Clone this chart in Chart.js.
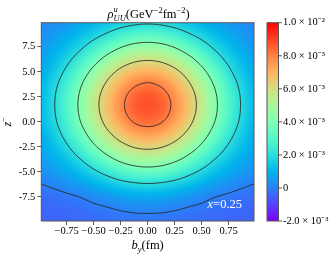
<!DOCTYPE html>
<html>
<head>
<meta charset="utf-8">
<script src="https://cdn.jsdelivr.net/npm/chart.js@4.4.1/dist/chart.umd.min.js"></script>
<style>
  html, body { margin: 0; padding: 0; background: #fff; }
</style>
</head>
<body>
<canvas id="chart" width="335" height="259"></canvas>
<script>
// rho_UU^u on a grid, in units of 1e-3 GeV^-2 fm^-2
var bY = [-1, -0.875, -0.75, -0.625, -0.5, -0.375, -0.25, -0.125, 0, 0.125, 0.25, 0.375, 0.5, 0.625, 0.75, 0.875, 1];
var zRows = [10, 8.75, 7.5, 6.25, 5, 3.75, 2.5, 1.25, 0, -1.25, -2.5, -3.75, -5, -6.25, -7.5, -8.75, -10];
var rho = [
  [0.18, 0.30, 0.47, 0.71, 0.99, 1.27, 1.57, 1.78, 1.85, 1.78, 1.57, 1.27, 0.99, 0.71, 0.47, 0.30, 0.18],
  [0.29, 0.50, 0.79, 1.17, 1.63, 2.11, 2.62, 2.95, 3.07, 2.95, 2.62, 2.11, 1.63, 1.17, 0.79, 0.50, 0.29],
  [0.44, 0.77, 1.21, 1.79, 2.51, 3.25, 3.91, 4.36, 4.51, 4.36, 3.91, 3.25, 2.51, 1.79, 1.21, 0.77, 0.44],
  [0.65, 1.10, 1.72, 2.53, 3.48, 4.42, 5.20, 5.71, 5.88, 5.71, 5.20, 4.42, 3.48, 2.53, 1.72, 1.10, 0.65],
  [0.82, 1.40, 2.22, 3.25, 4.38, 5.45, 6.31, 6.87, 7.08, 6.87, 6.31, 5.45, 4.38, 3.25, 2.22, 1.40, 0.82],
  [1.00, 1.70, 2.66, 3.83, 5.07, 6.19, 7.14, 7.83, 8.11, 7.83, 7.14, 6.19, 5.07, 3.83, 2.66, 1.70, 1.00],
  [1.10, 1.86, 2.92, 4.16, 5.46, 6.62, 7.65, 8.41, 8.68, 8.41, 7.65, 6.62, 5.46, 4.16, 2.92, 1.86, 1.10],
  [1.11, 1.88, 2.95, 4.20, 5.50, 6.68, 7.72, 8.49, 8.73, 8.49, 7.72, 6.68, 5.50, 4.20, 2.95, 1.88, 1.11],
  [1.03, 1.76, 2.76, 3.96, 5.20, 6.36, 7.33, 8.06, 8.30, 8.06, 7.33, 6.36, 5.20, 3.96, 2.76, 1.76, 1.03],
  [0.88, 1.50, 2.36, 3.43, 4.60, 5.68, 6.57, 7.17, 7.39, 7.17, 6.57, 5.68, 4.60, 3.43, 2.36, 1.50, 0.88],
  [0.70, 1.18, 1.86, 2.75, 3.76, 4.72, 5.53, 6.06, 6.24, 6.06, 5.53, 4.72, 3.76, 2.75, 1.86, 1.18, 0.70],
  [0.50, 0.86, 1.33, 1.97, 2.78, 3.58, 4.28, 4.75, 4.91, 4.75, 4.28, 3.58, 2.78, 1.97, 1.33, 0.86, 0.50],
  [0.27, 0.51, 0.83, 1.23, 1.78, 2.36, 2.89, 3.26, 3.40, 3.26, 2.89, 2.36, 1.78, 1.23, 0.83, 0.51, 0.27],
  [-0.02, 0.12, 0.33, 0.58, 0.91, 1.26, 1.60, 1.81, 1.90, 1.81, 1.60, 1.26, 0.91, 0.58, 0.33, 0.12, -0.02],
  [-0.31, -0.23, -0.12, 0.01, 0.22, 0.41, 0.61, 0.74, 0.79, 0.74, 0.61, 0.41, 0.22, 0.01, -0.12, -0.23, -0.31],
  [-0.44, -0.39, -0.33, -0.27, -0.16, -0.07, 0.04, 0.12, 0.14, 0.12, 0.04, -0.07, -0.16, -0.27, -0.33, -0.39, -0.44],
  [-0.48, -0.45, -0.42, -0.38, -0.33, -0.29, -0.25, -0.21, -0.20, -0.21, -0.25, -0.29, -0.33, -0.38, -0.42, -0.45, -0.48]
];
var levels = [0, 2, 4, 6, 8];

var xTicks = [-0.75, -0.5, -0.25, 0, 0.25, 0.5, 0.75];
var zTicks = [-7.5, -5, -2.5, 0, 2.5, 5, 7.5];
var cbTicks = [-2, 0, 2, 4, 6, 8, 10];
var cbLabels = ['-2.0 × 10⁻³', '0', '2.0 × 10⁻³', '4.0 × 10⁻³', '6.0 × 10⁻³', '8.0 × 10⁻³', '1.0 × 10⁻²'];

var SERIF = "'Liberation Serif', 'Times New Roman', serif";
var tickFont = { family: SERIF, size: 10.5, lineHeight: 1 };

// matplotlib "rainbow"
function rainbow(v) {
  var t = (v + 2) / 12;
  t = Math.max(0, Math.min(1, t));
  var r = Math.abs(2 * t - 0.5), g = Math.sin(Math.PI * t), b = Math.cos(Math.PI * t / 2);
  return [Math.round(Math.min(1, r) * 255), Math.round(g * 255), Math.round(b * 255)];
}

function cr(p0, p1, p2, p3, t) {
  return 0.5 * (2 * p1 + (-p0 + p2) * t + (2 * p0 - 5 * p1 + 4 * p2 - p3) * t * t + (-p0 + 3 * p1 - 3 * p2 + p3) * t * t * t);
}
function cell(i, j) {
  i = Math.max(0, Math.min(bY.length - 1, i));
  j = Math.max(0, Math.min(zRows.length - 1, j));
  return rho[j][i];
}
// smooth reading of the grid between its nodes
function field(bx, z) {
  var fi = (bx - bY[0]) / (bY[1] - bY[0]);
  var fj = (zRows[0] - z) / (zRows[0] - zRows[1]);
  var i = Math.floor(fi), j = Math.floor(fj);
  var t = fi - i, s = fj - j;
  var col = [];
  for (var k = -1; k <= 2; k++) {
    col.push(cr(cell(i - 1, j + k), cell(i, j + k), cell(i + 1, j + k), cell(i + 2, j + k), t));
  }
  return cr(col[0], col[1], col[2], col[3], s);
}

// text with super/subscripts
function rich(ctx, parts, x, y, align, color) {
  var cur = 0, hold = null, segs = [];
  parts.forEach(function (p) {
    ctx.font = (p.i ? 'italic ' : '') + p.s + 'px ' + SERIF;
    var w = ctx.measureText(p.t).width;
    segs.push({ p: p, x: cur });
    if (p.hold) { hold = cur + w; }
    else { cur = Math.max(cur + w, hold || 0); hold = null; }
  });
  var x0 = align === 'center' ? x - cur / 2 : (align === 'right' ? x - cur : x);
  ctx.fillStyle = color || '#000';
  ctx.textBaseline = 'alphabetic';
  ctx.textAlign = 'left';
  segs.forEach(function (sg) {
    ctx.font = (sg.p.i ? 'italic ' : '') + sg.p.s + 'px ' + SERIF;
    ctx.fillText(sg.p.t, x0 + sg.x, y + (sg.p.dy || 0));
  });
}

function noPad(s) { s.paddingTop = 0; s.paddingBottom = 0; s.paddingLeft = 0; s.paddingRight = 0; }

var heatPlugin = {
  id: 'heat',
  beforeDatasetsDraw: function (chart) {
    var ctx = chart.ctx, a = chart.chartArea;
    var xs = chart.scales.x, ys = chart.scales.y;
    var W = Math.ceil(a.right - a.left), H = Math.ceil(a.bottom - a.top);
    var off = document.createElement('canvas');
    off.width = W; off.height = H;
    var octx = off.getContext('2d');
    var img = octx.createImageData(W, H);
    for (var py = 0; py < H; py++) {
      var z = ys.getValueForPixel(a.top + py + 0.5);
      for (var px = 0; px < W; px++) {
        var bx = xs.getValueForPixel(a.left + px + 0.5);
        var c = rainbow(field(bx, z));
        var k = (py * W + px) * 4;
        img.data[k] = c[0]; img.data[k + 1] = c[1]; img.data[k + 2] = c[2]; img.data[k + 3] = 255;
      }
    }
    octx.putImageData(img, 0, 0);
    ctx.save();
    ctx.beginPath();
    ctx.rect(a.left, a.top, a.right - a.left, a.bottom - a.top);
    ctx.clip();
    ctx.drawImage(off, a.left, a.top, W, H);

    // contour lines by marching squares on a fine sampling
    var step = 2;
    var nx = Math.ceil(W / step) + 1, ny = Math.ceil(H / step) + 1;
    var G = [], PX = [], PY = [];
    for (var i = 0; i < nx; i++) PX.push(a.left + i * step);
    for (var j = 0; j < ny; j++) PY.push(a.top + j * step);
    for (j = 0; j < ny; j++) {
      var row = [];
      var zz = ys.getValueForPixel(PY[j]);
      for (i = 0; i < nx; i++) row.push(field(xs.getValueForPixel(PX[i]), zz));
      G.push(row);
    }
    ctx.strokeStyle = 'rgb(35,35,35)';
    ctx.lineWidth = 0.85;
    ctx.lineCap = 'butt';
    levels.forEach(function (L) {
      ctx.beginPath();
      for (var j = 0; j < ny - 1; j++) {
        for (var i = 0; i < nx - 1; i++) {
          var v0 = G[j][i], v1 = G[j][i + 1], v2 = G[j + 1][i + 1], v3 = G[j + 1][i];
          var x0 = PX[i], x1 = PX[i + 1], y0 = PY[j], y1 = PY[j + 1];
          var pts = [];
          if ((v0 >= L) !== (v1 >= L)) pts.push([x0 + (L - v0) / (v1 - v0) * (x1 - x0), y0]);
          if ((v1 >= L) !== (v2 >= L)) pts.push([x1, y0 + (L - v1) / (v2 - v1) * (y1 - y0)]);
          if ((v2 >= L) !== (v3 >= L)) pts.push([x1 - (L - v2) / (v3 - v2) * (x1 - x0), y1]);
          if ((v3 >= L) !== (v0 >= L)) pts.push([x0, y1 - (L - v3) / (v0 - v3) * (y1 - y0)]);
          for (var p = 0; p + 1 < pts.length; p += 2) {
            ctx.moveTo(pts[p][0], pts[p][1]);
            ctx.lineTo(pts[p + 1][0], pts[p + 1][1]);
          }
        }
      }
      ctx.stroke();
    });
    ctx.restore();
  },
  afterDraw: function (chart) {
    var ctx = chart.ctx, a = chart.chartArea;
    var cb = chart.scales.cb;
    ctx.save();
    // frame
    ctx.strokeStyle = '#555';
    ctx.lineWidth = 1;
    ctx.strokeRect(a.left, a.top, a.right - a.left, a.bottom - a.top);

    // colorbar
    var cx0 = cb.left + 13, cx1 = cb.left + 24.5;
    var yTop = cb.getPixelForValue(10), yBot = cb.getPixelForValue(-2);
    var grad = ctx.createLinearGradient(0, yBot, 0, yTop);
    for (var k = 0; k <= 24; k++) {
      var c = rainbow(-2 + 12 * k / 24);
      grad.addColorStop(k / 24, 'rgb(' + c.join(',') + ')');
    }
    ctx.fillStyle = grad;
    ctx.fillRect(cx0, yTop, cx1 - cx0, yBot - yTop);
    ctx.strokeStyle = '#555';
    ctx.strokeRect(cx0, yTop, cx1 - cx0, yBot - yTop);
    ctx.strokeStyle = '#333';
    ctx.lineWidth = 0.8;
    ctx.beginPath();
    cbTicks.forEach(function (v) {
      var y = cb.getPixelForValue(v);
      ctx.moveTo(cx1, y); ctx.lineTo(cx1 + 3.5, y);
    });
    ctx.stroke();

    // title
    rich(ctx, [
      { t: 'ρ', s: 12.5, i: true },
      { t: 'u', s: 8.5, i: true, dy: -5.5, hold: true },
      { t: 'UU', s: 8.5, i: true, dy: 3 },
      { t: '(GeV', s: 12.5 },
      { t: '−2', s: 8.5, dy: -5 },
      { t: 'fm', s: 12.5 },
      { t: '−2', s: 8.5, dy: -5 },
      { t: ')', s: 12.5 }
    ], (a.left + a.right) / 2 + 1, 17.5, 'center');

    // x title
    rich(ctx, [
      { t: 'b', s: 12.5, i: true },
      { t: 'y', s: 8.5, i: true, dy: 3 },
      { t: '(fm)', s: 12.5 }
    ], chart.scales.x.getPixelForValue(0), 249, 'center');

    // y title, rotated
    ctx.save();
    ctx.translate(10.5, chart.scales.y.getPixelForValue(0));
    ctx.rotate(-Math.PI / 2);
    rich(ctx, [
      { t: 'z', s: 12, i: true },
      { t: '−', s: 8, dy: -5 }
    ], 0, 0, 'center');
    ctx.restore();

    // annotation
    rich(ctx, [
      { t: 'x', s: 12.5, i: true },
      { t: '=0.25', s: 12.5 }
    ], a.right - 12, a.bottom - 13, 'right', '#fff');
    ctx.restore();
  }
};

var cells = [];
zRows.forEach(function (z) { bY.forEach(function (b) { cells.push({ x: b, y: z }); }); });

new Chart(document.getElementById('chart'), {
  type: 'scatter',
  data: { datasets: [{ data: cells, pointRadius: 0, pointHoverRadius: 0 }] },
  plugins: [heatPlugin],
  options: {
    responsive: false,
    animation: false,
    devicePixelRatio: 1,
    layout: { padding: { top: 22.7, left: 0, right: 0, bottom: 0 } },
    plugins: { legend: { display: false }, tooltip: { enabled: false } },
    scales: {
      x: {
        type: 'linear', min: -0.985, max: 0.985,
        afterBuildTicks: function (s) { s.ticks = xTicks.map(function (v) { return { value: v }; }); },
        afterFit: function (s) { s.height = 38; noPad(s); },
        ticks: {
          font: tickFont, color: '#000', padding: 1, maxRotation: 0, autoSkip: false,
          callback: function (v) { return (v < 0 ? '−' : '') + Math.abs(v).toFixed(2); }
        },
        grid: { drawOnChartArea: false, tickLength: 4, color: '#333', lineWidth: 0.8 },
        border: { display: false }
      },
      y: {
        type: 'linear', min: -9.9, max: 9.9, position: 'left',
        afterBuildTicks: function (s) { s.ticks = zTicks.map(function (v) { return { value: v }; }); },
        afterFit: function (s) { s.width = 41.3; noPad(s); },
        ticks: {
          font: tickFont, color: '#000', padding: 2, autoSkip: false,
          callback: function (v) { return v.toFixed(1); }
        },
        grid: { drawOnChartArea: false, tickLength: 4, color: '#333', lineWidth: 0.8 },
        border: { display: false }
      },
      cb: {
        type: 'linear', min: -2, max: 10, position: 'right',
        afterBuildTicks: function (s) { s.ticks = cbTicks.map(function (v) { return { value: v }; }); },
        afterFit: function (s) { s.width = 81; noPad(s); },
        ticks: {
          font: tickFont, color: '#000', padding: 29, autoSkip: false,
          callback: function (v) { return cbLabels[cbTicks.indexOf(v)]; }
        },
        grid: { display: false, drawTicks: false },
        border: { display: false }
      }
    }
  }
});
</script>
</body>
</html>
